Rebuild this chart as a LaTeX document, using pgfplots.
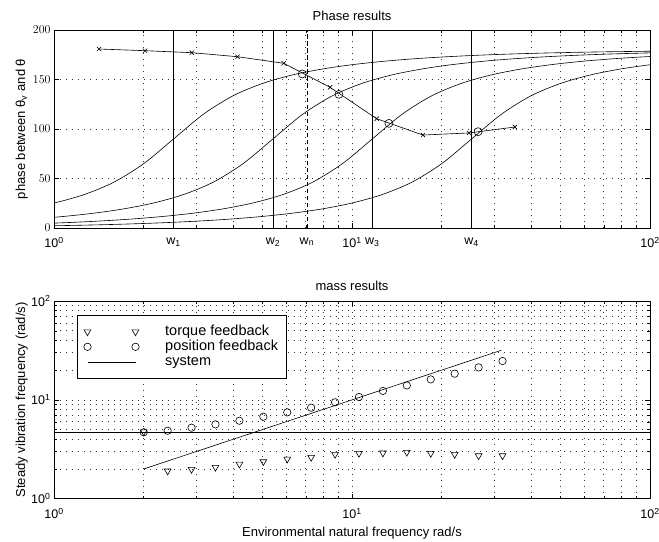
\documentclass[border=0pt]{standalone}
\usepackage{fontspec}
\setmainfont{Liberation Sans}
\usepackage{pgfplots}
\pgfplotsset{compat=1.18}

\pgfplotsset{
  % legend picture: the mark at both ends, or a plain segment
  twoends/.style={
    legend image code/.code={\draw[##1] plot coordinates {(0bp,0bp) (48bp,0bp)};}
  },
}

\begin{document}
\begin{tikzpicture}
\path[use as bounding box] (0bp,0bp) rectangle (659bp,-542bp);

% ---------------- phase results ----------------
\begin{axis}[
  scale only axis,
  width=596bp, height=198bp,
  at={(54bp,-30bp)}, anchor=north west,
  xmode=log, xmin=1, xmax=100,
  xtick={1,10,100},
  xticklabels={10\textsuperscript{0},10\textsuperscript{1},10\textsuperscript{2}},
  minor xtick={2,3,4,5,6,7,8,9,20,30,40,50,60,70,80,90},
  ymin=0, ymax=200,
  ytick={0,50,100,150,200},
  xmajorgrids, xminorgrids, ymajorgrids,
  major grid style={black!80, line width=0.7bp, dash pattern=on 0.8bp off 5.2bp},
  minor grid style={black!80, line width=0.7bp, dash pattern=on 0.8bp off 5.2bp},
  axis line style={line width=0.8bp},
  tick style={black, line width=0.5bp},
  major tick length=5bp, minor tick length=3bp,
  tick label style={font=\fontsize{12.5bp}{14bp}\selectfont},
  xticklabel style={yshift=-6bp},
  label style={font=\fontsize{13bp}{15bp}\selectfont},
  title style={font=\fontsize{13bp}{15bp}\selectfont, at={(axis description cs:0.5,1)}, anchor=center, yshift=8.5bp},
  ylabel style={at={(axis description cs:-0.054,0.5)}, anchor=center},
  extra x ticks={2.52,5.43,7.06,11.7,25.2},
  extra x tick labels={w\textsubscript{1},w\textsubscript{2},w\textsubscript{n},w\textsubscript{3},w\textsubscript{4}},
  extra x tick style={xmajorgrids=false, major tick length=0pt},
  title={Phase results},
  ylabel={phase between θ\textsubscript{v} and θ},
]
% characteristic frequencies
\addplot[black, line width=0.6bp] coordinates {(2.52,0) (2.52,200)};
\addplot[black, line width=0.6bp] coordinates {(5.43,0) (5.43,200)};
\addplot[black, line width=0.6bp, dash pattern=on 4.5bp off 2.5bp] coordinates {(7.06,0) (7.06,200)};
\addplot[black, line width=0.6bp] coordinates {(11.7,0) (11.7,200)};
\addplot[black, line width=0.6bp] coordinates {(25.2,0) (25.2,200)};

% phase curves
\addplot[black, line width=0.6bp, smooth] coordinates {
 (0.7969,19.36) (1.0032,25.32) (1.2630,33.80) (1.5900,46.35) (2.0017,65.08)
 (2.52,90) (3.1724,114.92) (3.9939,133.65) (5.0282,146.20) (6.3300,154.68)
 (7.9690,160.64) (10.032,164.99) (12.630,168.26) (15.900,170.77) (20.017,172.71)
 (25.2,174.23) (31.724,175.43) (39.939,176.38) (50.282,177.12) (63.300,177.72)
 (79.690,178.19) (100.32,178.56)};
\addplot[black, line width=0.6bp, smooth] coordinates {
 (0.8606,9.23) (1.0834,11.74) (1.3640,15.01) (1.7171,19.36) (2.1617,25.32)
 (2.7215,33.80) (3.4261,46.35) (4.3132,65.08) (5.43,90) (6.8358,114.92)
 (8.6060,133.65) (10.834,146.20) (13.640,154.68) (17.171,160.64) (21.617,164.99)
 (27.215,168.26) (34.261,170.77) (43.132,172.71) (54.30,174.23) (68.358,175.43)
 (86.060,176.38) (108.34,177.12)};
\addplot[black, line width=0.6bp, smooth] coordinates {
 (0.9293,4.57) (1.17,5.77) (1.4729,7.29) (1.8543,9.23) (2.3345,11.74)
 (2.9389,15.01) (3.6999,19.36) (4.6579,25.32) (5.8639,33.80) (7.3822,46.35)
 (9.2937,65.08) (11.7,90) (14.729,114.92) (18.543,133.65) (23.345,146.20)
 (29.389,154.68) (36.999,160.64) (46.579,164.99) (58.639,168.26) (73.822,170.77)
 (92.937,172.71) (117.0,174.23)};
\addplot[black, line width=0.6bp, smooth] coordinates {
 (0.7969,1.81) (1.0032,2.28) (1.2630,2.88) (1.5900,3.62) (2.0017,4.57)
 (2.52,5.77) (3.1724,7.29) (3.9939,9.23) (5.0282,11.74) (6.33,15.01)
 (7.969,19.36) (10.032,25.32) (12.630,33.80) (15.900,46.35) (20.017,65.08)
 (25.2,90) (31.724,114.92) (39.939,133.65) (50.282,146.20) (63.30,154.68)
 (79.69,160.64) (100.32,164.99)};

% measured phase
\addplot[black, line width=0.6bp, mark=x, mark size=3bp] coordinates {
 (1.416,180.8) (2.02,179.1) (2.90,177.1) (4.13,173.0) (5.90,166.4)
 (8.44,142.1) (12.1,110.4) (17.3,93.9) (24.7,96.0) (35.2,102.0)};

% resonance points
\addplot[black, only marks, mark=o, mark size=4bp, line width=0.6bp] coordinates {
 (6.81,155.6) (9.04,135.0) (13.3,105.7) (26.5,97.3)};
\end{axis}

% ---------------- mass results ----------------
\begin{axis}[
  scale only axis,
  width=596bp, height=197.7bp,
  at={(54bp,-301bp)}, anchor=north west,
  xmode=log, xmin=1, xmax=100,
  xtick={1,10,100},
  xticklabels={10\textsuperscript{0},10\textsuperscript{1},10\textsuperscript{2}},
  minor xtick={2,3,4,5,6,7,8,9,20,30,40,50,60,70,80,90},
  ymode=log, ymin=1, ymax=100,
  ytick={1,10,100},
  yticklabels={10\textsuperscript{0},10\textsuperscript{1},10\textsuperscript{2}},
  minor ytick={2,3,4,5,6,7,8,9,20,30,40,50,60,70,80,90},
  xmajorgrids, xminorgrids, ymajorgrids, yminorgrids,
  major grid style={black!80, line width=0.7bp, dash pattern=on 0.8bp off 5.2bp},
  minor grid style={black!80, line width=0.7bp, dash pattern=on 0.8bp off 5.2bp},
  axis line style={line width=0.8bp},
  tick style={black, line width=0.5bp},
  major tick length=5bp, minor tick length=3bp,
  tick label style={font=\fontsize{12.5bp}{14bp}\selectfont},
  xticklabel style={yshift=-6bp},
  label style={font=\fontsize{13bp}{15bp}\selectfont},
  title style={font=\fontsize{13bp}{15bp}\selectfont, at={(axis description cs:0.5,1)}, anchor=center, yshift=9bp},
  ylabel style={at={(axis description cs:-0.054,0.5)}, anchor=center},
  xlabel style={at={(axis description cs:0.5,0)}, anchor=center, yshift=-34bp},
  title={mass results},
  xlabel={Environmental natural frequency rad/s},
  ylabel={Steady vibration frequency (rad/s)},
  legend cell align=left,
  legend style={
    at={(axis description cs:0.0386,0.929)}, anchor=north west,
    draw=black, line width=0.6bp, fill=white,
    inner xsep=6.5bp, inner ysep=9bp,
    row sep=0pt, column sep=24bp,
    font=\fontsize{14.5bp}{15bp}\selectfont,
    nodes={inner xsep=2bp, inner ysep=1bp, text height=10bp, text depth=3bp},
  },
]
\addplot[black, line width=0.6bp, forget plot] coordinates {(1,4.7) (100,4.7)};

\addplot[black, only marks, mark=triangle, mark size=3.9bp, line width=0.6bp,
  mark options={rotate=180}, twoends]
 coordinates {
 (2,4.75) (2.406,1.91) (2.895,1.98) (3.482,2.08) (4.189,2.24) (5.040,2.37)
 (6.063,2.52) (7.294,2.62) (8.774,2.81) (10.556,2.88) (12.699,2.90)
 (15.277,2.95) (18.379,2.88) (22.110,2.81) (26.599,2.72) (32.0,2.72)};
\addlegendentry{torque feedback}

\addplot[black, only marks, mark=o, mark size=3.7bp, line width=0.6bp, twoends]
 coordinates {
 (2,4.70) (2.406,4.87) (2.895,5.23) (3.482,5.65) (4.189,6.15) (5.040,6.76)
 (6.063,7.48) (7.294,8.33) (8.774,9.45) (10.556,10.7) (12.699,12.3)
 (15.277,14.0) (18.379,16.1) (22.110,18.4) (26.599,21.3) (32.0,24.7)};
\addlegendentry{position feedback}

\addplot[black, line width=0.6bp, twoends]
 coordinates {(2,2) (31.7,31.7)};
\addlegendentry{system}

\node[anchor=base east, font=\fontsize{12.5bp}{14bp}\selectfont]
  at (axis cs:1,4.7) [xshift=-13bp, yshift=1.5bp] {w\textsubscript{n}};
\end{axis}
\end{tikzpicture}
\end{document}
